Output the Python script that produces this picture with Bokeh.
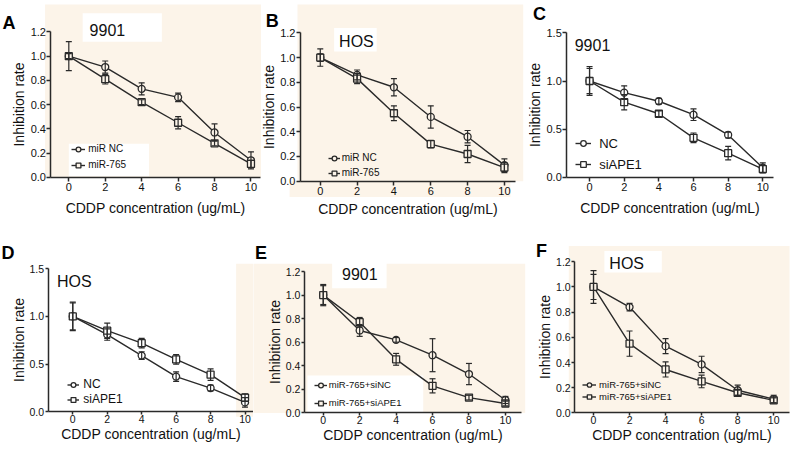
from bokeh.plotting import figure
from bokeh.models import (ColumnDataSource, Whisker, TeeHead, Label, Legend, LegendItem,
                          FixedTicker, PrintfTickFormatter, BoxAnnotation, Range1d)
from bokeh.layouts import row, column
from bokeh.embed import file_html
from bokeh.resources import INLINE

# ---------------- data ----------------
conc = [0, 2, 4, 6, 8, 10]
x_title = "CDDP concentration (ug/mL)"
y_title = "Inhibition rate"

a_nc = [1.00, 0.91, 0.73, 0.66, 0.37, 0.14]
a_nc_err = [0.12, 0.05, 0.05, 0.035, 0.07, 0.07]
a_765 = [1.00, 0.81, 0.62, 0.45, 0.28, 0.11]
a_765_err = [0.02, 0.04, 0.02, 0.05, 0.02, 0.03]

b_nc = [1.00, 0.86, 0.76, 0.52, 0.36, 0.13]
b_nc_err = [0.07, 0.04, 0.07, 0.09, 0.05, 0.05]
b_765 = [1.00, 0.83, 0.55, 0.30, 0.22, 0.11]
b_765_err = [0.03, 0.04, 0.06, 0.03, 0.07, 0.04]

c_nc = [1.00, 0.88, 0.79, 0.65, 0.44, 0.10]
c_nc_err = [0.15, 0.07, 0.03, 0.06, 0.03, 0.05]
c_si = [1.00, 0.78, 0.66, 0.41, 0.25, 0.085]
c_si_err = [0.13, 0.08, 0.03, 0.05, 0.07, 0.04]

d_nc = [1.00, 0.81, 0.59, 0.37, 0.25, 0.10]
d_nc_err = [0.14, 0.06, 0.04, 0.05, 0.03, 0.05]
d_si = [1.00, 0.85, 0.72, 0.55, 0.39, 0.15]
d_si_err = [0.15, 0.08, 0.05, 0.05, 0.06, 0.04]

e_nc = [1.00, 0.70, 0.62, 0.49, 0.33, 0.11]
e_nc_err = [0.09, 0.05, 0.02, 0.14, 0.09, 0.03]
e_si = [1.00, 0.77, 0.455, 0.23, 0.13, 0.08]
e_si_err = [0.08, 0.04, 0.05, 0.06, 0.02, 0.02]

f_nc = [1.00, 0.84, 0.53, 0.385, 0.18, 0.11]
f_nc_err = [0.13, 0.03, 0.06, 0.065, 0.04, 0.03]
f_si = [1.00, 0.55, 0.345, 0.25, 0.16, 0.10]
f_si_err = [0.10, 0.10, 0.06, 0.05, 0.02, 0.02]

yt_12 = [0.0, 0.2, 0.4, 0.6, 0.8, 1.0, 1.2]
yt_15 = [0.0, 0.5, 1.0, 1.5]

# ---------------- style ----------------
FONT = "Liberation Sans"
BEIGE = "#FCF4E9"
INK = "#2a2a2a"
TXT = "#111111"
SX, SY = 0.99, 0.982   # reference picture -> 794x445 layout


def build(spec, series):
    lx0, ly0, W, H = spec["box"]                      # layout pixels
    rx0, rx1 = lx0 / SX, (lx0 + W) / SX               # same box in reference pixels
    ry0, ry1 = ly0 / SY, (ly0 + H) / SY
    yax_px, y0_px = spec["axes"]
    x0px, x10px = spec["xpx"]
    k = (x10px - x0px) / 10.0
    m = (y0_px - spec["ytop_px"]) / spec["ytop_val"]

    def dx(px):
        return (px - x0px) / k

    def dy(py):
        return (y0_px - py) / m

    p = figure(width=W, height=H, x_range=Range1d(dx(rx0), dx(rx1)),
               y_range=Range1d(dy(ry1), dy(ry0)),
               output_backend="svg", toolbar_location=None,
               min_border=0, min_border_left=0, min_border_right=0,
               min_border_top=0, min_border_bottom=0,
               background_fill_color="white", border_fill_color="white",
               outline_line_color=None)
    p.xgrid.visible = False
    p.ygrid.visible = False

    for (l, t, r, b) in spec.get("beige", []):
        p.add_layout(BoxAnnotation(left=dx(l), right=dx(r), top=dy(t), bottom=dy(b),
                                   fill_color=BEIGE, fill_alpha=1.0, line_color=None,
                                   level="underlay"))
    for (l, t, r, b) in spec.get("boxes", []):
        p.add_layout(BoxAnnotation(left=dx(l), right=dx(r), top=dy(t), bottom=dy(b),
                                   fill_color="white", fill_alpha=1.0, line_color=None,
                                   level="underlay"))

    for ax in (p.xaxis[0], p.yaxis[0]):
        ax.axis_line_color = INK
        ax.axis_line_width = 1.5
        ax.major_tick_line_color = INK
        ax.major_tick_line_width = 1.5
        ax.major_tick_out = spec["tick_out"]
        ax.major_tick_in = 0
        ax.minor_tick_out = 0
        ax.minor_tick_in = 0
        ax.major_label_text_font = FONT
        ax.major_label_text_font_size = spec["tick_font"]
        ax.major_label_text_color = TXT
        ax.axis_label_text_font = FONT
        ax.axis_label_text_font_size = "14px"
        ax.axis_label_text_font_style = "normal"
        ax.axis_label_text_color = TXT

    xa = p.xaxis[0]
    xa.fixed_location = 0.0
    xa.ticker = FixedTicker(ticks=conc)
    xa.bounds = (dx(yax_px), spec["xend"])
    xa.axis_label = x_title
    xa.major_label_standoff = spec["xstand"][0]
    xa.axis_label_standoff = spec["xstand"][1]

    ya = p.yaxis[0]
    ya.fixed_location = dx(yax_px)
    ya.ticker = FixedTicker(ticks=spec["yticks"])
    ya.formatter = PrintfTickFormatter(format="%.1f")
    ya.bounds = (0, spec["ytop_val"])
    ya.axis_label = y_title
    ya.major_label_standoff = 1
    ya.axis_label_standoff = 0

    items = []
    sfill = spec.get("mfill", "white")
    for (vals, errs, marker, label) in series:
        src = ColumnDataSource(dict(x=conc, y=vals,
                                    upper=[v + e for v, e in zip(vals, errs)],
                                    lower=[v - e for v, e in zip(vals, errs)]))
        ln = p.line("x", "y", source=src, line_color=INK, line_width=1.4)
        wk = Whisker(source=src, base="x", upper="upper", lower="lower", dimension="height",
                     line_color=INK, line_width=1.2, level="glyph",
                     upper_head=TeeHead(size=6, line_color=INK, line_width=1.2),
                     lower_head=TeeHead(size=6, line_color=INK, line_width=1.2))
        p.add_layout(wk)
        sc = p.scatter("x", "y", source=src, marker=marker, size=7, fill_color=sfill,
                       line_color=INK, line_width=1.3)
        items.append(LegendItem(label=label, renderers=[ln, sc]))

    lg = spec["legend"]
    gh = lg["gh"]
    legend = Legend(items=items,
                    location=(lg["glyph_left"] * SX - lx0,
                              (ly0 + H) - lg["bottom_center"] * SY - gh / 2.0),
                    orientation="vertical",
                    background_fill_alpha=0.0, border_line_color=None,
                    padding=0, spacing=lg["pitch"] - gh, margin=0,
                    glyph_width=lg["gw"], glyph_height=gh, label_height=gh,
                    label_standoff=lg["standoff"], label_text_font=FONT,
                    label_text_font_size=lg["font"], label_text_color=TXT)
    p.add_layout(legend)

    tt, tl, tc = spec["title"]
    p.add_layout(Label(x=dx(tl), y=dy(tc), text=tt, text_font=FONT, text_font_size="16px",
                       text_color=TXT, text_baseline="middle", text_align="left"))

    L, lx, lyc = spec["letter"]
    p.add_layout(Label(x=dx(lx), y=dy(lyc), text=L,
                       text_font=FONT, text_font_size="18px", text_font_style="bold",
                       text_color="#000000", text_baseline="middle", text_align="left"))
    return p


row1 = dict(tick_out=4, tick_font="11px")
row2 = dict(tick_out=3, tick_font="10.5px")

specs = {
    "A": dict(row1, box=(0, 0, 261, 226), axes=(51, 180), xpx=(69, 253), ytop_px=32, ytop_val=1.2,
              yticks=yt_12, xend=10.5, xstand=(2, 5), mfill=BEIGE,
              beige=[(45, 4, 266, 180)],
              boxes=[(83, 13, 163, 42), (69, 146, 150, 179)],
              title=("9901", 90, 30),
              legend=dict(glyph_left=72, bottom_center=168, pitch=16, gh=12, gw=14, standoff=3, font="10px"),
              letter=("A", 2, 23)),
    "B": dict(row1, box=(261, 0, 267, 226), axes=(303, 184), xpx=(323, 509), ytop_px=33, ytop_val=1.2,
              yticks=yt_12, xend=10.6, xstand=(2, 2), mfill=BEIGE,
              beige=[(300, 4, 528, 184), (292, 184, 515, 200)],
              boxes=[(337, 28, 380, 52)],
              title=("HOS", 342, 42),
              legend=dict(glyph_left=331, bottom_center=176, pitch=15, gh=12, gw=12, standoff=2, font="10px"),
              letter=("B", 268, 21)),
    "C": dict(row1, box=(528, 0, 266, 226), axes=(572, 180), xpx=(595, 770), ytop_px=33, ytop_val=1.5,
              yticks=yt_15, xend=10.6, xstand=(2, 5),
              title=("9901", 580, 45),
              legend=dict(glyph_left=581, bottom_center=168, pitch=20, gh=14, gw=16, standoff=8, font="13px"),
              letter=("C", 538, 14)),
    "D": dict(row2, box=(0, 226, 253, 219), axes=(48, 419), xpx=(73, 247), ytop_px=273, ytop_val=1.5,
              yticks=yt_15, xend=10.5, xstand=(0, 0),
              beige=[(238, 268, 260, 424)],
              title=("HOS", 57, 286),
              legend=dict(glyph_left=68, bottom_center=407, pitch=14, gh=13, gw=12, standoff=4, font="12px"),
              letter=("D", 1, 257)),
    "E": dict(row2, box=(253, 226, 282, 219), axes=(307, 420), xpx=(326, 510), ytop_px=276, ytop_val=1.2,
              yticks=yt_12, xend=10.9, xstand=(0, 0), mfill=BEIGE,
              beige=[(250, 268, 530, 420)],
              boxes=[(335, 267, 390, 293), (310, 382, 427, 419)],
              title=("9901", 345, 279),
              legend=dict(glyph_left=317, bottom_center=410, pitch=18, gh=12, gw=13, standoff=2, font="9.5px"),
              letter=("E", 257, 257)),
    "F": dict(row2, box=(535, 226, 259, 219), axes=(580, 420), xpx=(599, 781), ytop_px=266, ytop_val=1.2,
              yticks=yt_12, xend=10.9, xstand=(0, 0), mfill=BEIGE,
              beige=[(574, 250, 797, 420)],
              boxes=[(610, 255, 668, 277)],
              title=("HOS", 615, 268),
              legend=dict(glyph_left=588, bottom_center=404, pitch=12, gh=11, gw=14, standoff=3, font="9.5px"),
              letter=("F", 541, 255)),
}

pA = build(specs["A"], [(a_nc, a_nc_err, "circle", "miR NC"), (a_765, a_765_err, "square", "miR-765")])
pB = build(specs["B"], [(b_nc, b_nc_err, "circle", "miR NC"), (b_765, b_765_err, "square", "miR-765")])
pC = build(specs["C"], [(c_nc, c_nc_err, "circle", "NC"), (c_si, c_si_err, "square", "siAPE1")])
pD = build(specs["D"], [(d_nc, d_nc_err, "circle", "NC"), (d_si, d_si_err, "square", "siAPE1")])
pE = build(specs["E"], [(e_nc, e_nc_err, "circle", "miR-765+siNC"), (e_si, e_si_err, "square", "miR-765+siAPE1")])
pF = build(specs["F"], [(f_nc, f_nc_err, "circle", "miR-765+siNC"), (f_si, f_si_err, "square", "miR-765+siAPE1")])

layout = column(row(pA, pB, pC, spacing=0), row(pD, pE, pF, spacing=0), spacing=0)

with open("out.html", "w") as fh:
    fh.write(file_html(layout, INLINE))
